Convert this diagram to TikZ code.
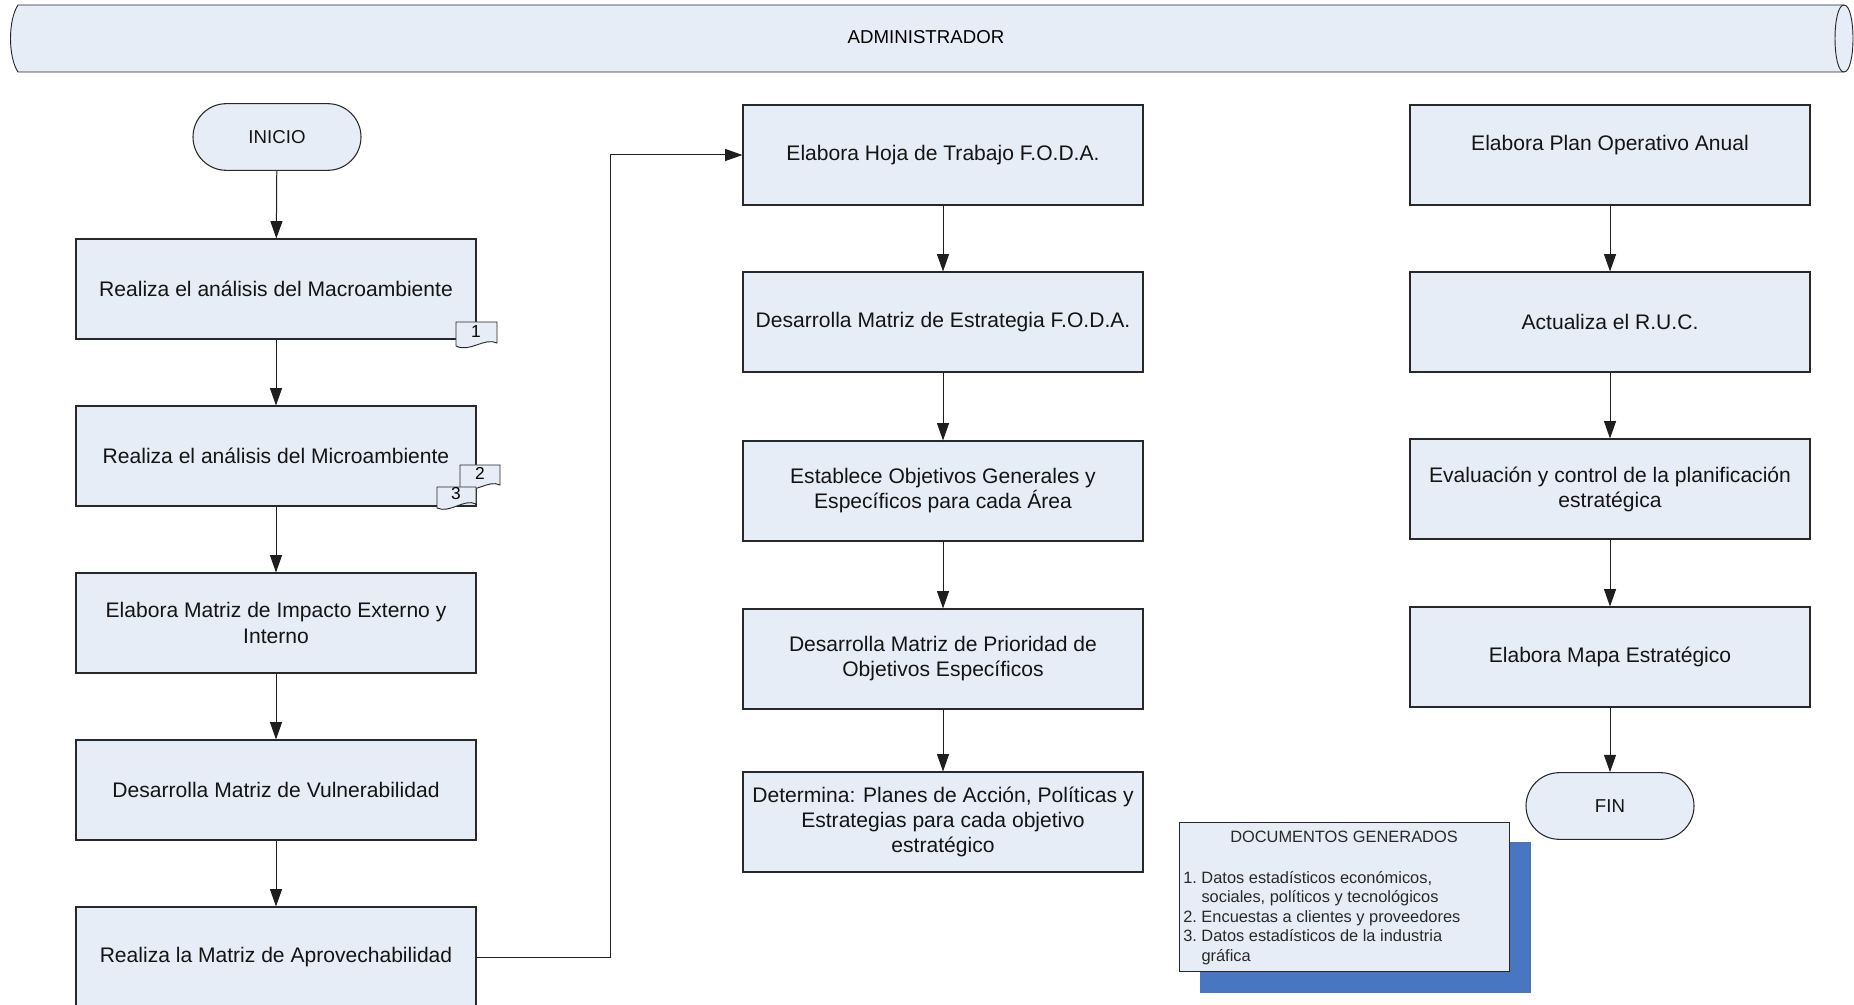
\documentclass[tikz,border=0pt]{standalone}
\usepackage{fontspec}
\setmainfont{Liberation Sans}
\usetikzlibrary{arrows.meta}

\begin{document}
\begin{tikzpicture}[x=0.75pt,y=0.75pt,yscale=-1,xscale=1,
  caja/.style={draw={rgb, 255:red, 40; green, 40; blue, 40}, line width=0.8pt,
    fill={rgb, 255:red, 231; green, 237; blue, 247}, minimum width=300pt, minimum height=75pt,
    inner sep=0pt, align=center, text={rgb, 255:red, 20; green, 20; blue, 20},
    font=\fontsize{15.8}{18.8}\selectfont},
  terminal/.style={caja, minimum width=126pt, minimum height=50pt, rounded corners=25pt,
    font=\fontsize{14}{17}\selectfont},
  marca/.style={draw={rgb, 255:red, 40; green, 40; blue, 40}, line width=0.7pt,
    fill={rgb, 255:red, 231; green, 237; blue, 247}},
  numdoc/.style={inner sep=0pt, font=\fontsize{13}{15}\selectfont},
  flecha/.style={draw={rgb, 255:red, 30; green, 30; blue, 30}, line width=0.75pt,
    -{Triangle[length=13pt,width=9pt]}}
]
\useasboundingbox (0,0) rectangle (1854,1005);
\fill[white] (0,0) rectangle (1854,1005);

%Shape: Horizontal Cylinder
\draw [marca] (18,5) -- (1844,5) .. controls (1856,5) and (1856,72) .. (1844,72) -- (18,72) .. controls (8,57) and (8,20) .. (18,5) -- cycle ;
\draw [marca, fill=none] (1844,5) .. controls (1832,5) and (1832,72) .. (1844,72) ;
% Text Node
\draw (926,37) node [font=\fontsize{14}{17}\selectfont] (admin) {ADMINISTRADOR};

% first column
\draw (277,137) node [terminal] (inicio) {INICIO};
\draw (276,289) node [caja] (macro) {Realiza el análisis del Macroambiente};
\draw (276,456) node [caja] (micro) {Realiza el análisis del Microambiente};
\draw (276,623) node [caja] (impacto) {Elabora Matriz de Impacto Externo y\\Interno};
\draw (276,790) node [caja] (vulner) {Desarrolla Matriz de Vulnerabilidad};
\draw (276,957) node [caja] (aprov) {Realiza la Matriz de Aprovechabilidad};

% second column
\draw (943,155) node [caja] (hoja) {Elabora Hoja de Trabajo F.O.D.A.};
\draw (943,322) node [caja] (estrat) {Desarrolla Matriz de Estrategia F.O.D.A.};
\draw (943,491) node [caja] (objet) {Establece Objetivos Generales y\\Específicos para cada Área};
\draw (943,659) node [caja] (prior) {Desarrolla Matriz de Prioridad de\\Objetivos Específicos};
\draw (943,822) node [caja] (determ) {Determina: Planes de Acción, Políticas y\\Estrategias para cada objetivo\\estratégico};

% third column
\draw (1610,155) node [caja] (plan) {Elabora Plan Operativo Anual\\\mbox{}};
\draw (1610,322) node [caja] (ruc) {Actualiza el R.U.C.};
\draw (1610,489) node [caja] (eval) {Evaluación y control de la planificación\\estratégica};
\draw (1610,657) node [caja] (mapa) {Elabora Mapa Estratégico};
\draw (1610,806) node [terminal] (fin) {FIN};

%Shape: Document
\draw [marca] (456,322) -- (497,322) -- (497,343) .. controls (484,337) and (470,353) .. (456,346) -- cycle ;
\draw (476,332) node [numdoc] (doc1) {1};
%Shape: Document
\draw [marca] (460,465) -- (500,465) -- (500,485) .. controls (488,479) and (474,495) .. (460,488) -- cycle ;
\draw (480,473) node [numdoc] (doc2) {2};
%Shape: Document
\draw [marca] (437,487) -- (476,487) -- (476,504) .. controls (464,498) and (450,514) .. (437,508) -- cycle ;
\draw (456,494) node [numdoc] (doc3) {3};

%Straight Lines
\draw [flecha] (inicio) -- (macro);
\draw [flecha] (macro) -- (micro);
\draw [flecha] (micro) -- (impacto);
\draw [flecha] (impacto) -- (vulner);
\draw [flecha] (vulner) -- (aprov);
\coordinate (quiebre) at (610,957);
\draw [flecha] (aprov.east) -- (quiebre) |- (hoja.west);
\draw [flecha] (hoja) -- (estrat);
\draw [flecha] (estrat) -- (objet);
\draw [flecha] (objet) -- (prior);
\draw [flecha] (prior) -- (determ);
\draw [flecha] (plan) -- (ruc);
\draw [flecha] (ruc) -- (eval);
\draw [flecha] (eval) -- (mapa);
\draw [flecha] (mapa) -- (fin);

%Shape: Rectangle with shadow
\fill [color={rgb, 255:red, 72; green, 118; blue, 192}] (1200,842) rectangle (1531,993);
\draw [marca] (1179,822) rectangle (1509,971);
% Text Node
\draw (1344,837) node [font=\fontsize{12.3}{14.6}\selectfont, text={rgb, 255:red, 40; green, 40; blue, 40}] (doctitulo) {DOCUMENTOS GENERADOS};
% Text Node
\draw (1183,871) node [anchor=north west, inner sep=0pt, align=left, font=\fontsize{12.3}{14.6}\selectfont, text={rgb, 255:red, 40; green, 40; blue, 40}] (doclista) {1.\ Datos estadísticos económicos,\\\hphantom{1.\ }sociales, políticos y tecnológicos\\2.\ Encuestas a clientes y proveedores\\3.\ Datos estadísticos de la industria\\\hphantom{3.\ }gráfica};

\end{tikzpicture}
\end{document}
